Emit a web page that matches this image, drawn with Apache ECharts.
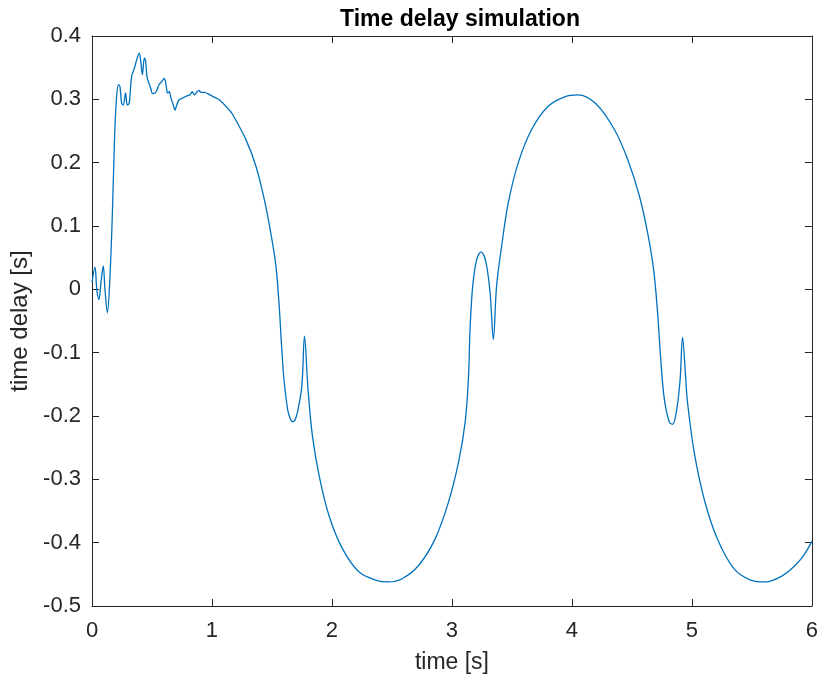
<!DOCTYPE html>
<html>
<head>
<meta charset="utf-8">
<script src="https://cdn.jsdelivr.net/npm/echarts@6/dist/echarts.min.js"></script>
<style>
  html, body { margin: 0; padding: 0; background: #fff; }
  #chart { width: 821px; height: 679px; }
</style>
</head>
<body>
<div id="chart"></div>
<script>
// Simulated time delay over time
const timeS = [
  0, 0.025, 0.04, 0.058, 0.075, 0.094, 0.108, 0.128, 0.15, 0.17,
  0.186, 0.2, 0.22, 0.233, 0.247, 0.26, 0.28, 0.294, 0.31, 0.33,
  0.353, 0.372, 0.394, 0.408, 0.42, 0.436, 0.447, 0.458, 0.475, 0.489,
  0.505, 0.525, 0.542, 0.558, 0.58, 0.603, 0.617, 0.63, 0.644, 0.658,
  0.678, 0.692, 0.706, 0.725, 0.753, 0.775, 0.797, 0.817, 0.836, 0.853,
  0.872, 0.892, 0.908, 0.936, 0.983, 1.035, 1.063, 1.09, 1.145, 1.173,
  1.284, 1.367, 1.436, 1.49, 1.533, 1.56, 1.58, 1.60, 1.63, 1.65,
  1.67, 1.69, 1.713, 1.749, 1.771, 1.80, 1.837, 1.893, 1.975, 2.086,
  2.224, 2.362, 2.473, 2.584, 2.722, 2.86, 2.971, 3.055, 3.11, 3.137,
  3.151, 3.173, 3.206, 3.243, 3.281, 3.318, 3.345, 3.372, 3.414, 3.469,
  3.553, 3.663, 3.802, 3.94, 4.05, 4.2, 4.355, 4.465, 4.563,
  4.631, 4.681, 4.714, 4.742, 4.77, 4.812, 4.839, 4.874, 4.902, 4.922,
  4.949, 4.963, 5.019, 5.102, 5.212, 5.35, 5.489, 5.614, 5.738, 5.849,
  5.932, 6.0
];
const delayS = [
  0.011, 0.035, 0.0, -0.016, 0.011, 0.037, 0.0, -0.037, 0.021, 0.121,
  0.226, 0.289, 0.323, 0.32, 0.294, 0.291, 0.31, 0.291, 0.294, 0.336,
  0.349, 0.362, 0.373, 0.357, 0.339, 0.365, 0.36, 0.336, 0.325, 0.318,
  0.309, 0.31, 0.315, 0.323, 0.328, 0.333, 0.323, 0.31, 0.312, 0.302,
  0.291, 0.283, 0.291, 0.299, 0.302, 0.304, 0.306, 0.307, 0.312, 0.307,
  0.311, 0.314, 0.311, 0.311, 0.307, 0.302, 0.299, 0.294, 0.283, 0.276,
  0.236, 0.194, 0.142, 0.089, 0.037, -0.026, -0.089, -0.142, -0.189, -0.203,
  -0.209, -0.207, -0.194, -0.152, -0.074, -0.157, -0.231, -0.294, -0.357, -0.409,
  -0.446, -0.459, -0.462, -0.457, -0.436, -0.394, -0.336, -0.273, -0.21, -0.142,
  -0.063, 0.005, 0.047, 0.059, 0.045, -0.005, -0.079, 0.005, 0.068, 0.136,
  0.2, 0.252, 0.289, 0.304, 0.307, 0.293, 0.252, 0.205, 0.147,
  0.089, 0.031, -0.037, -0.115, -0.173, -0.21, -0.213, -0.189, -0.142, -0.076,
  -0.142, -0.178, -0.257, -0.331, -0.394, -0.441, -0.459, -0.462, -0.454, -0.438,
  -0.42, -0.398
];

const axisColor = '#262626';
const fontFam = '"Liberation Sans", Arial, Helvetica, sans-serif';

const chart = echarts.init(document.getElementById('chart'), null, { renderer: 'canvas' });

const boxAxis = {
  axisLine: { show: true, onZero: false, lineStyle: { color: axisColor, width: 1 } },
  axisTick: { show: true, inside: true, length: 7, lineStyle: { color: axisColor } },
  splitLine: { show: false }
};

chart.setOption({
  animation: false,
  backgroundColor: '#fff',
  title: {
    text: 'Time delay simulation',
    left: 455,
    top: 3,
    textAlign: 'center',
    textStyle: { fontFamily: fontFam, fontSize: 23, fontWeight: 'bold', color: '#000' }
  },
  grid: { left: 92, right: 6, top: 36, bottom: 73 },
  xAxis: [
    Object.assign({
      type: 'value', min: 0, max: 6, interval: 1, position: 'bottom',
      name: 'time [s]', nameLocation: 'middle', nameGap: 45,
      nameTextStyle: { fontFamily: fontFam, fontSize: 23, color: axisColor },
      axisLabel: { fontFamily: fontFam, fontSize: 22, color: axisColor, margin: 14 }
    }, boxAxis),
    Object.assign({
      type: 'value', min: 0, max: 6, interval: 1, position: 'top',
      axisLabel: { show: false }
    }, boxAxis)
  ],
  yAxis: [
    Object.assign({
      type: 'value', min: -0.5, max: 0.4, interval: 0.1, position: 'left',
      name: 'time delay [s]', nameLocation: 'middle', nameGap: 54, nameRotate: 90,
      nameTextStyle: { fontFamily: fontFam, fontSize: 24, color: axisColor },
      axisLabel: {
        fontFamily: fontFam, fontSize: 22, color: axisColor, margin: 11,
        formatter: v => String(+v.toFixed(1))
      }
    }, boxAxis),
    Object.assign({
      type: 'value', min: -0.5, max: 0.4, interval: 0.1, position: 'right',
      axisLabel: { show: false }
    }, boxAxis)
  ],
  series: [{
    type: 'line',
    xAxisIndex: 0,
    yAxisIndex: 0,
    data: timeS.map((t, i) => [t, delayS[i]]),
    showSymbol: false,
    symbol: 'none',
    smooth: 0.35,
    lineStyle: { color: '#0072BD', width: 1.3 }
  }]
});
</script>
</body>
</html>
